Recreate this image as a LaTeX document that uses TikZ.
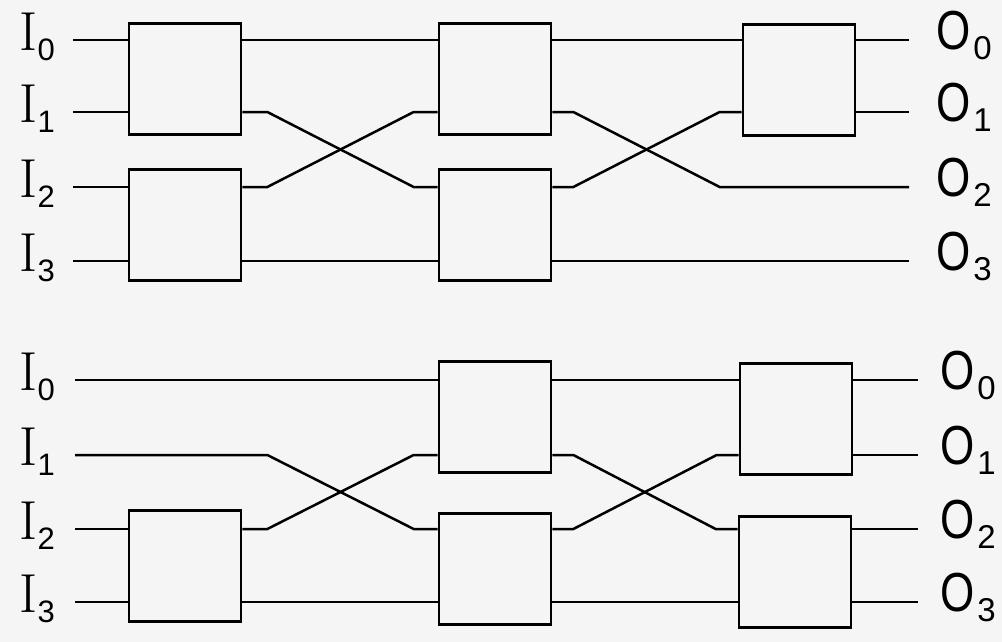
\documentclass[tikz,border=0pt]{standalone}
\usepackage{fontspec}
\usepackage{graphicx}
\setsansfont{Liberation Sans}
\usetikzlibrary{positioning,calc}

\newcommand{\inlabel}[1]{I\raisebox{-10pt}{\fontsize{31}{31}\selectfont\sffamily #1}}
\newcommand{\outlabel}[1]{{\sffamily\scalebox{0.8}[1]{O}\hspace{3pt}\raisebox{-10pt}{\fontsize{33}{33}\selectfont #1}}}

\tikzset{
  swbox/.style={draw, line width=2.7pt, minimum width=112pt, minimum height=111pt, inner sep=0pt},
  wire/.style={line width=2.5pt},
  pinlabel/.style={inner sep=0pt, font=\fontsize{55}{60}\selectfont}
}

\begin{document}
\begin{tikzpicture}[x=1pt, y=-1pt]
  \fill[black!4] (0,0) rectangle (1002,642);
  \useasboundingbox (0,0) rectangle (1002,642);

  % Upper network: wire ends and labels
  \foreach \i/\y in {0/40, 1/112, 2/187, 3/261} {
    \coordinate (tin\i) at (73,\y);
    \coordinate (tout\i) at (909,\y);
    \node[pinlabel, left=18pt of tin\i, yshift=3pt] (tlI\i) {\inlabel{\i}};
    \node[pinlabel, right=27pt of tout\i, yshift=5pt] (tlO\i) {\outlabel{\i}};
  }

  % Upper network: switch boxes
  \node[swbox] (tA0) at (185,79) {};
  \node[swbox] (tA1) at (185,225) {};
  \node[swbox] (tB0) at (495,79) {};
  \node[swbox] (tB1) at (495,225) {};
  \node[swbox] (tC0) at (799,80) {};

  % Upper network: wires
  \foreach \i/\b in {0/tA0, 1/tA0, 2/tA1, 3/tA1}
    \draw[wire] (tin\i) -- (\b.west |- tin\i);
  \draw[wire] (tA0.east |- tin0) -- (tB0.west |- tin0);
  \draw[wire] (tA1.east |- tin3) -- (tB1.west |- tin3);
  \draw[wire] (tA0.east |- tin1) -- ++(25,0) -- ($(tB1.west |- tin2)+(-24,0)$) -- (tB1.west |- tin2);
  \draw[wire] (tA1.east |- tin2) -- ++(25,0) -- ($(tB0.west |- tin1)+(-24,0)$) -- (tB0.west |- tin1);
  \draw[wire] (tB0.east |- tin0) -- (tC0.west |- tin0);
  \draw[wire] (tB0.east |- tin1) -- ++(21,0) -- ($(tC0.west |- tout2)+(-22,0)$) -- (tout2);
  \draw[wire] (tB1.east |- tin2) -- ++(21,0) -- ($(tC0.west |- tin1)+(-22,0)$) -- (tC0.west |- tin1);
  \draw[wire] (tB1.east |- tin3) -- (tout3);
  \draw[wire] (tC0.east |- tin0) -- (tout0);
  \draw[wire] (tC0.east |- tin1) -- (tout1);

  % Lower network: wire ends and labels
  \foreach \i/\y in {0/380, 1/455, 2/529, 3/602} {
    \coordinate (bin\i) at (75,\y);
    \coordinate (bout\i) at (918,\y);
    \node[pinlabel, left=20pt of bin\i, yshift=3pt] (blI\i) {\inlabel{\i}};
    \node[pinlabel, right=22pt of bout\i, yshift=5pt] (blO\i) {\outlabel{\i}};
  }

  % Lower network: switch boxes
  \node[swbox] (bA1) at (185,566) {};
  \node[swbox] (bB0) at (495,417) {};
  \node[swbox] (bB1) at (495,569) {};
  \node[swbox] (bC0) at (796,419) {};
  \node[swbox] (bC1) at (795,572) {};

  % Lower network: wires
  \draw[wire] (bin0) -- (bB0.west |- bin0);
  \draw[wire] (bin1) -- ($(bA1.east |- bin1)+(25,0)$) -- ($(bB1.west |- bin2)+(-24,0)$) -- (bB1.west |- bin2);
  \draw[wire] (bin2) -- (bA1.west |- bin2);
  \draw[wire] (bin3) -- (bA1.west |- bin3);
  \draw[wire] (bA1.east |- bin2) -- ++(25,0) -- ($(bB0.west |- bin1)+(-24,0)$) -- (bB0.west |- bin1);
  \draw[wire] (bA1.east |- bin3) -- (bB1.west |- bin3);
  \draw[wire] (bB0.east |- bin0) -- (bC0.west |- bin0);
  \draw[wire] (bB0.east |- bin1) -- ++(21,0) -- ($(bC1.west |- bin2)+(-22,0)$) -- (bC1.west |- bin2);
  \draw[wire] (bB1.east |- bin2) -- ++(21,0) -- ($(bC0.west |- bin1)+(-22,0)$) -- (bC0.west |- bin1);
  \draw[wire] (bB1.east |- bin3) -- (bC1.west |- bin3);
  \foreach \i/\b in {0/bC0, 1/bC0, 2/bC1, 3/bC1}
    \draw[wire] (\b.east |- bin\i) -- (bout\i);
\end{tikzpicture}
\end{document}
